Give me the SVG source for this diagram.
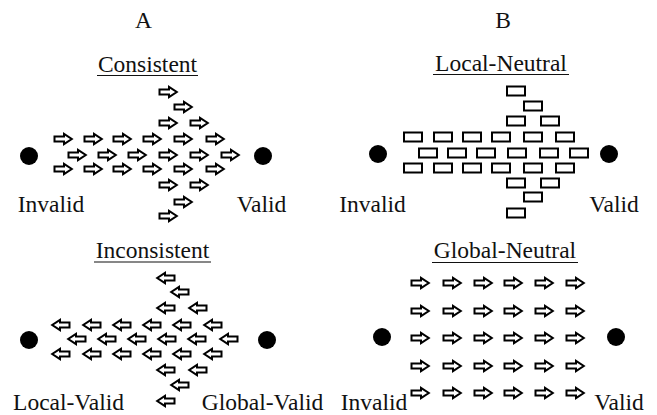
<svg xmlns="http://www.w3.org/2000/svg" xmlns:xlink="http://www.w3.org/1999/xlink" width="657" height="415" viewBox="0 0 657 415">
<style>
text{font-family:"Liberation Serif","Times New Roman",serif;font-size:23.5px;fill:#111;text-anchor:middle}
.ul{stroke:#111;stroke-width:1.2}
.dot{fill:#000}
.ar{fill:#fff;stroke:#000;stroke-width:2;stroke-linejoin:miter}
.bx{fill:#fff;stroke:#000;stroke-width:2}
</style>
<defs>
<path id="ra" class="ar" d="M-8.5,-2.5 H1 V-5.2 L8.8,0 L1,5.2 V2.5 H-8.5 Z"/>
<path id="la" class="ar" d="M8.5,-2.5 H-1 V-5.2 L-8.8,0 L-1,5.2 V2.5 H8.5 Z"/>
<rect id="bx" class="bx" x="-9" y="-4.5" width="18" height="9"/>
</defs>
<rect width="657" height="415" fill="#fff"/>
<text x="143.5" y="28">A</text>
<text x="503" y="28">B</text>

<g id="panel-consistent">
<text x="147.5" y="72">Consistent</text>
<line class="ul" x1="97" y1="75.5" x2="198" y2="75.5"/>
<circle class="dot" cx="29" cy="156" r="9"/>
<circle class="dot" cx="263" cy="156" r="9"/>
<text x="51" y="212">Invalid</text>
<text x="261.5" y="212">Valid</text>
<use xlink:href="#ra" x="168" y="92"/>
<use xlink:href="#ra" x="183" y="107"/>
<use xlink:href="#ra" x="168" y="123"/><use xlink:href="#ra" x="199" y="123"/>
<use xlink:href="#ra" x="63" y="139"/><use xlink:href="#ra" x="93" y="139"/><use xlink:href="#ra" x="122" y="139"/><use xlink:href="#ra" x="152" y="139"/><use xlink:href="#ra" x="183" y="139"/><use xlink:href="#ra" x="215" y="139"/>
<use xlink:href="#ra" x="77" y="155"/><use xlink:href="#ra" x="107" y="155"/><use xlink:href="#ra" x="137" y="155"/><use xlink:href="#ra" x="168" y="155"/><use xlink:href="#ra" x="199" y="155"/><use xlink:href="#ra" x="230" y="155"/>
<use xlink:href="#ra" x="63" y="169"/><use xlink:href="#ra" x="93" y="169"/><use xlink:href="#ra" x="122" y="169"/><use xlink:href="#ra" x="152" y="169"/><use xlink:href="#ra" x="183" y="169"/><use xlink:href="#ra" x="215" y="169"/>
<use xlink:href="#ra" x="168" y="185"/><use xlink:href="#ra" x="199" y="185"/>
<use xlink:href="#ra" x="183" y="202"/>
<use xlink:href="#ra" x="168" y="216"/>
</g>

<g id="panel-local-neutral">
<text x="501" y="71">Local-Neutral</text>
<line class="ul" x1="433" y1="74.5" x2="569" y2="74.5"/>
<circle class="dot" cx="378" cy="154" r="9"/>
<circle class="dot" cx="609" cy="154" r="9"/>
<text x="372.5" y="212">Invalid</text>
<text x="614" y="212">Valid</text>
<use xlink:href="#bx" x="516" y="91"/>
<use xlink:href="#bx" x="533" y="106"/>
<use xlink:href="#bx" x="516" y="121"/><use xlink:href="#bx" x="550" y="121"/>
<use xlink:href="#bx" x="413" y="137"/><use xlink:href="#bx" x="443" y="137"/><use xlink:href="#bx" x="472" y="137"/><use xlink:href="#bx" x="501" y="137"/><use xlink:href="#bx" x="533" y="137"/><use xlink:href="#bx" x="565" y="137"/>
<use xlink:href="#bx" x="428" y="153"/><use xlink:href="#bx" x="457" y="153"/><use xlink:href="#bx" x="486" y="153"/><use xlink:href="#bx" x="517" y="153"/><use xlink:href="#bx" x="549" y="153"/><use xlink:href="#bx" x="579" y="153"/>
<use xlink:href="#bx" x="413" y="168"/><use xlink:href="#bx" x="443" y="168"/><use xlink:href="#bx" x="472" y="168"/><use xlink:href="#bx" x="501" y="168"/><use xlink:href="#bx" x="533" y="168"/><use xlink:href="#bx" x="565" y="168"/>
<use xlink:href="#bx" x="516" y="183"/><use xlink:href="#bx" x="550" y="183"/>
<use xlink:href="#bx" x="533" y="197"/>
<use xlink:href="#bx" x="516" y="213"/>
</g>

<g id="panel-inconsistent">
<text x="152.5" y="258">Inconsistent</text>
<line class="ul" x1="94" y1="262" x2="211" y2="262"/>
<circle class="dot" cx="29" cy="340" r="9"/>
<circle class="dot" cx="267" cy="340" r="9"/>
<text x="68.5" y="410">Local-Valid</text>
<text x="262.5" y="410">Global-Valid</text>
<use xlink:href="#la" x="166" y="278"/>
<use xlink:href="#la" x="180" y="292"/>
<use xlink:href="#la" x="166" y="308"/><use xlink:href="#la" x="198" y="308"/>
<use xlink:href="#la" x="61" y="325"/><use xlink:href="#la" x="92" y="325"/><use xlink:href="#la" x="122" y="325"/><use xlink:href="#la" x="152" y="325"/><use xlink:href="#la" x="182" y="325"/><use xlink:href="#la" x="213" y="325"/>
<use xlink:href="#la" x="77" y="339"/><use xlink:href="#la" x="107" y="339"/><use xlink:href="#la" x="137" y="339"/><use xlink:href="#la" x="167" y="339"/><use xlink:href="#la" x="197" y="339"/><use xlink:href="#la" x="229" y="339"/>
<use xlink:href="#la" x="61" y="354"/><use xlink:href="#la" x="92" y="354"/><use xlink:href="#la" x="122" y="354"/><use xlink:href="#la" x="152" y="354"/><use xlink:href="#la" x="182" y="354"/><use xlink:href="#la" x="213" y="354"/>
<use xlink:href="#la" x="166" y="370"/><use xlink:href="#la" x="198" y="370"/>
<use xlink:href="#la" x="180" y="385"/>
<use xlink:href="#la" x="166" y="401"/>
</g>

<g id="panel-global-neutral">
<text x="505" y="258">Global-Neutral</text>
<line class="ul" x1="432" y1="262.5" x2="578" y2="262.5"/>
<circle class="dot" cx="382" cy="337" r="9"/>
<circle class="dot" cx="616" cy="337" r="9"/>
<text x="374" y="410">Invalid</text>
<text x="619" y="410">Valid</text>
<g id="grid">
<use xlink:href="#ra" x="420" y="283"/><use xlink:href="#ra" x="452" y="283"/><use xlink:href="#ra" x="483" y="283"/><use xlink:href="#ra" x="513" y="283"/><use xlink:href="#ra" x="544" y="283"/><use xlink:href="#ra" x="575" y="283"/>
<use xlink:href="#ra" x="420" y="311"/><use xlink:href="#ra" x="452" y="311"/><use xlink:href="#ra" x="483" y="311"/><use xlink:href="#ra" x="513" y="311"/><use xlink:href="#ra" x="544" y="311"/><use xlink:href="#ra" x="575" y="311"/>
<use xlink:href="#ra" x="420" y="338"/><use xlink:href="#ra" x="452" y="338"/><use xlink:href="#ra" x="483" y="338"/><use xlink:href="#ra" x="513" y="338"/><use xlink:href="#ra" x="544" y="338"/><use xlink:href="#ra" x="575" y="338"/>
<use xlink:href="#ra" x="420" y="366"/><use xlink:href="#ra" x="452" y="366"/><use xlink:href="#ra" x="483" y="366"/><use xlink:href="#ra" x="513" y="366"/><use xlink:href="#ra" x="544" y="366"/><use xlink:href="#ra" x="575" y="366"/>
<use xlink:href="#ra" x="420" y="393"/><use xlink:href="#ra" x="452" y="393"/><use xlink:href="#ra" x="483" y="393"/><use xlink:href="#ra" x="513" y="393"/><use xlink:href="#ra" x="544" y="393"/><use xlink:href="#ra" x="575" y="393"/>
</g>
</g>
<g id="connectors"/>
</svg>
